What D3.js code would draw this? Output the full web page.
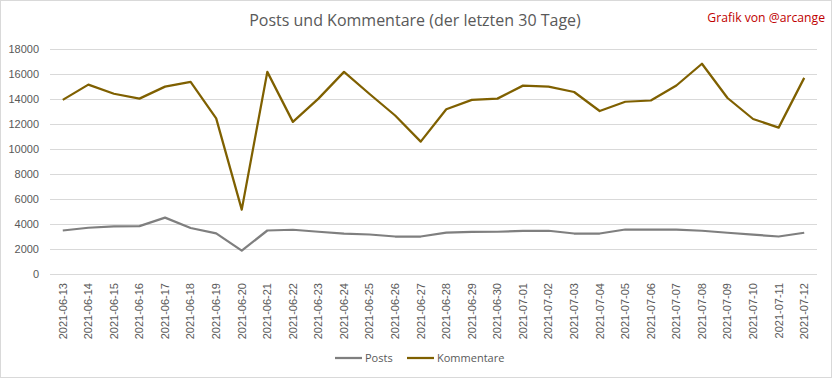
<!DOCTYPE html>
<html>
<head>
<meta charset="utf-8">
<script src="https://cdn.jsdelivr.net/npm/d3@7"></script>
<style>
  body { margin: 0; background: #fff; }
  svg { display: block; font-family: "Open Sans", "Noto Sans", sans-serif; }
</style>
</head>
<body>
<div id="chart"></div>
<script>
const days = ["2021-06-13","2021-06-14","2021-06-15","2021-06-16","2021-06-17","2021-06-18","2021-06-19","2021-06-20","2021-06-21","2021-06-22","2021-06-23","2021-06-24","2021-06-25","2021-06-26","2021-06-27","2021-06-28","2021-06-29","2021-06-30","2021-07-01","2021-07-02","2021-07-03","2021-07-04","2021-07-05","2021-07-06","2021-07-07","2021-07-08","2021-07-09","2021-07-10","2021-07-11","2021-07-12"]
const posts = [3480,3700,3810,3830,4510,3680,3250,1870,3480,3540,3380,3230,3160,3000,3000,3310,3370,3380,3450,3460,3240,3240,3560,3560,3550,3460,3300,3150,3000,3300]
const kommentare = [13930,15150,14420,14030,14990,15370,12450,5150,16170,12170,14030,16170,14400,12680,10590,13180,13930,14030,15070,14990,14560,13040,13780,13880,15080,16820,14080,12400,11710,15690]
const yTicks = [0,2000,4000,6000,8000,10000,12000,14000,16000,18000]

const margin = {top:49, right:15, bottom:104, left:50},
  W = 832, H = 378,
  width = W - margin.left - margin.right,
  height = H - margin.top - margin.bottom;

const svg = d3.select("#chart")
  .append("svg")
    .attr("width", W)
    .attr("height", H)

// outer frame
svg.append("rect")
  .attr("x", 0.5).attr("y", 0.5)
  .attr("width", W - 1).attr("height", H - 1)
  .style("fill", "#fff")
  .style("stroke", "#d9d9d9")

svg.append("text")
  .attr("x", 415)
  .attr("y", 26)
  .attr("text-anchor", "middle")
  .style("font-size", "16px")
  .style("fill", "#595959")
  .text("Posts und Kommentare (der letzten 30 Tage)")

svg.append("text")
  .attr("x", 825)
  .attr("y", 22)
  .attr("text-anchor", "end")
  .style("font-size", "12.2px")
  .style("fill", "#c00000")
  .text("Grafik von @arcange")

const g = svg.append("g")
  .attr("transform", "translate(" + margin.left + "," + margin.top + ")")

const x = d3.scaleBand().domain(days).range([0, width])
const y = d3.scaleLinear().domain([0, 18000]).range([height, 0])

// y axis with gridlines
g.append("g")
  .call(d3.axisLeft(y).tickValues(yTicks).tickSize(-width).tickPadding(11).tickFormat(d => d))
  .call(a => a.select(".domain").remove())
  .call(a => a.selectAll(".tick line").style("stroke", "#d9d9d9"))
  .call(a => a.selectAll(".tick text").style("fill", "#595959").style("font-size", "11px").style("font-family", "Liberation Sans, Arial, sans-serif"))

// x axis labels
g.append("g")
  .attr("transform", "translate(0," + height + ")")
  .call(d3.axisBottom(x).tickSize(0))
  .call(a => a.select(".domain").remove())
  .call(a => a.selectAll(".tick text")
    .attr("transform", "rotate(-90)")
    .attr("text-anchor", "end")
    .attr("x", -9)
    .attr("y", 0)
    .attr("dy", "0.35em")
    .style("fill", "#595959")
    .style("font-size", "11px")
    .style("font-family", "Liberation Sans, Arial, sans-serif"))

const line = d3.line()
  .x((d, i) => x(days[i]) + x.bandwidth() / 2)
  .y(d => y(d))

g.append("path")
  .datum(posts)
  .attr("d", line)
  .style("fill", "none")
  .style("stroke", "#7f7f7f")
  .style("stroke-width", 2.25)
  .style("stroke-linejoin", "round")

g.append("path")
  .datum(kommentare)
  .attr("d", line)
  .style("fill", "none")
  .style("stroke", "#7f6000")
  .style("stroke-width", 2.25)
  .style("stroke-linejoin", "round")

// legend
const legend = [{name:"Posts", color:"#7f7f7f", x:335}, {name:"Kommentare", color:"#7f6000", x:407}]
legend.forEach(l => {
  svg.append("line")
    .attr("x1", l.x).attr("x2", l.x + 27)
    .attr("y1", 358).attr("y2", 358)
    .style("stroke", l.color)
    .style("stroke-width", 2.25)
  svg.append("text")
    .attr("x", l.x + 30)
    .attr("y", 362)
    .style("font-size", "11px")
    .style("fill", "#595959")
    .text(l.name)
})
</script>
</body>
</html>
